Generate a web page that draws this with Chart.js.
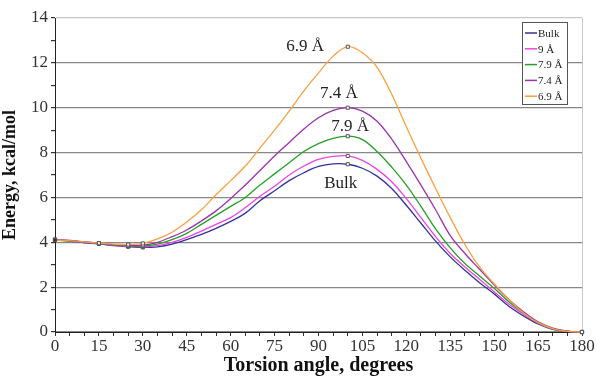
<!DOCTYPE html>
<html>
<head>
<meta charset="utf-8">
<script src="https://cdn.jsdelivr.net/npm/chart.js@4/dist/chart.umd.min.js"></script>
<style>
  html, body { margin: 0; padding: 0; background: #fff; }
  #wrap { width: 597px; height: 378px; }
</style>
</head>
<body>
<div id="wrap"><canvas id="energyChart" width="597" height="378"></canvas></div>
<script>
// torsion angle, degrees
var angles = [0, 5, 10, 15, 20, 25, 30, 35, 40, 45, 50, 55, 60, 65, 70, 75, 80, 85, 90,
  95, 100, 105, 110, 115, 120, 125, 130, 135, 140, 145, 150, 155, 160, 165, 170, 175, 180];

// energy, kcal/mol
var bulk = [4.12, 4.05, 3.98, 3.93, 3.85, 3.8, 3.77, 3.8, 3.92, 4.12, 4.35, 4.62, 4.93, 5.3, 5.85, 6.3, 6.75, 7.1, 7.38,
  7.5, 7.48, 7.3, 6.95, 6.4, 5.65, 4.85, 4.05, 3.35, 2.75, 2.2, 1.7, 1.15, 0.72, 0.36, 0.12, 0.03, 0];
var a90 = [4.12, 4.07, 4.0, 3.95, 3.87, 3.82, 3.8, 3.85, 4.0, 4.22, 4.5, 4.8, 5.1, 5.55, 6.05, 6.5, 7.0, 7.4, 7.7,
  7.83, 7.85, 7.65, 7.25, 6.7, 5.95, 5.1, 4.25, 3.5, 2.9, 2.35, 1.8, 1.25, 0.8, 0.4, 0.14, 0.03, 0];
var a79 = [4.1, 4.06, 4.01, 3.95, 3.88, 3.84, 3.83, 3.92, 4.12, 4.4, 4.8, 5.2, 5.6, 6.0, 6.55, 7.05, 7.55, 8.05, 8.4,
  8.63, 8.73, 8.58, 8.05, 7.35, 6.55, 5.6, 4.6, 3.75, 3.05, 2.5, 1.95, 1.35, 0.85, 0.42, 0.15, 0.03, 0];
var a74 = [4.12, 4.08, 4.02, 3.96, 3.9, 3.86, 3.87, 4.0, 4.25, 4.55, 4.95, 5.4, 5.95, 6.55, 7.2, 7.85, 8.45, 9.05, 9.55,
  9.88, 10.0, 9.85, 9.4, 8.6, 7.6, 6.55, 5.45, 4.3, 3.5, 2.8, 2.1, 1.45, 0.9, 0.45, 0.17, 0.04, 0];
var a69 = [4.1, 4.07, 4.02, 3.96, 3.92, 3.9, 3.95, 4.15, 4.45, 4.9, 5.45, 6.12, 6.75, 7.4, 8.2, 9.0, 9.85, 10.75, 11.55,
  12.3, 12.72, 12.45, 11.8, 10.6, 9.15, 7.75, 6.4, 5.1, 3.9, 2.9, 2.15, 1.45, 0.85, 0.42, 0.15, 0.03, 0];

var seriesNames = ['Bulk', '9 Å', '7.9 Å', '7.4 Å', '6.9 Å'];
var seriesColors = ['#33339a', '#ee44e0', '#25a025', '#9933aa', '#f7a040'];
// angles that carry a square marker
var markedAngles = [0, 15, 25, 30, 100, 180];

// curve labels, in data units
var curveLabels = [
  {text: '6.9 Å', x: 85.4, y: 12.72},
  {text: '7.4 Å', x: 97, y: 10.65},
  {text: '7.9 Å', x: 100.8, y: 9.14},
  {text: 'Bulk', x: 97.6, y: 6.6}
];

var allSeries = [bulk, a90, a79, a74, a69];

function toPoints(vals) {
  return angles.map(function(a, i) { return {x: a, y: vals[i]}; });
}

var radii = angles.map(function(a) { return markedAngles.indexOf(a) >= 0 ? 2.2 : 0; });

var datasets = allSeries.map(function(vals, i) {
  return {
    label: seriesNames[i],
    data: toPoints(vals),
    borderColor: seriesColors[i],
    borderWidth: 1.3,
    tension: 0.35,
    clip: false,
    pointStyle: 'rect',
    pointRadius: radii,
    pointBackgroundColor: angles.map(function(a) { return a === 0 ? '#333' : '#fff'; }),
    pointBorderColor: '#555',
    pointBorderWidth: 1
  };
});
// draw the orange curve first so the others sit on top
datasets.reverse();

var serif = '"Liberation Serif", "Times New Roman", serif';

var labelPlugin = {
  id: 'curveLabels',
  afterDatasetsDraw: function(chart) {
    var c = chart.ctx;
    var xs = chart.scales.x, ys = chart.scales.y;
    c.save();
    c.font = '17px ' + serif;
    c.fillStyle = '#222';
    c.textAlign = 'center';
    c.textBaseline = 'middle';
    curveLabels.forEach(function(l) {
      c.fillText(l.text, xs.getPixelForValue(l.x), ys.getPixelForValue(l.y));
    });

    // legend box
    var bx = 522, by = 22, bw = 45, bh = 82;
    c.fillStyle = '#fff';
    c.fillRect(bx, by, bw, bh);
    c.strokeStyle = '#555';
    c.lineWidth = 1;
    c.strokeRect(bx + 0.5, by + 0.5, bw, bh);
    c.font = '11px ' + serif;
    c.textAlign = 'left';
    seriesNames.forEach(function(n, i) {
      var yy = by + 11 + i * 15.8;
      c.strokeStyle = seriesColors[i];
      c.lineWidth = 1.5;
      c.beginPath();
      c.moveTo(bx + 3, yy);
      c.lineTo(bx + 15, yy);
      c.stroke();
      c.fillStyle = '#222';
      c.fillText(n, bx + 16, yy + 1);
    });
    c.restore();
  }
};

var ctx = document.getElementById('energyChart').getContext('2d');
var energyChart = new Chart(ctx, {
  type: 'line',
  data: { datasets: datasets },
  plugins: [labelPlugin],
  options: {
    responsive: false,
    animation: false,
    layout: { padding: { top: 18, right: 15, left: 0, bottom: 0 } },
    plugins: {
      legend: { display: false },
      tooltip: { enabled: false }
    },
    scales: {
      x: {
        type: 'linear',
        min: 0,
        max: 180,
        afterFit: function(s) { s.height = 46; },
        ticks: {
          stepSize: 5,
          autoSkip: false,
          maxRotation: 0,
          padding: 0,
          color: '#333',
          font: { family: serif, size: 17 },
          callback: function(v) { return v % 15 === 0 ? v : ''; }
        },
        grid: {
          drawOnChartArea: true,
          color: function(c) { return c.tick && c.tick.value === 180 ? '#c8c8c8' : 'rgba(0,0,0,0)'; },
          tickColor: '#333',
          tickLength: 4
        },
        border: { display: true, color: '#222', width: 1 },
        title: {
          display: true,
          text: 'Torsion angle, degrees',
          color: '#111',
          padding: { top: -3, bottom: 0 },
          font: { family: serif, size: 20, weight: 'bold' }
        }
      },
      y: {
        min: 0,
        max: 14,
        afterFit: function(s) { s.width = 55; },
        ticks: {
          stepSize: 1,
          autoSkip: false,
          padding: 3,
          color: '#333',
          font: { family: serif, size: 17 },
          callback: function(v) { return v % 2 === 0 ? v : ''; }
        },
        grid: {
          color: function(c) {
            if (!c.tick) return 'rgba(0,0,0,0)';
            if (c.tick.value === 14) return '#c8c8c8';
            return c.tick.value % 2 === 0 ? '#888' : 'rgba(0,0,0,0)';
          },
          lineWidth: 1.2,
          tickColor: '#333',
          tickLength: 4
        },
        border: { display: true, color: '#222', width: 1 },
        title: {
          display: true,
          text: 'Energy, kcal/mol',
          color: '#111',
          padding: { top: 0, bottom: 0 },
          font: { family: serif, size: 18, weight: 'bold' }
        }
      }
    }
  }
});
</script>
</body>
</html>
